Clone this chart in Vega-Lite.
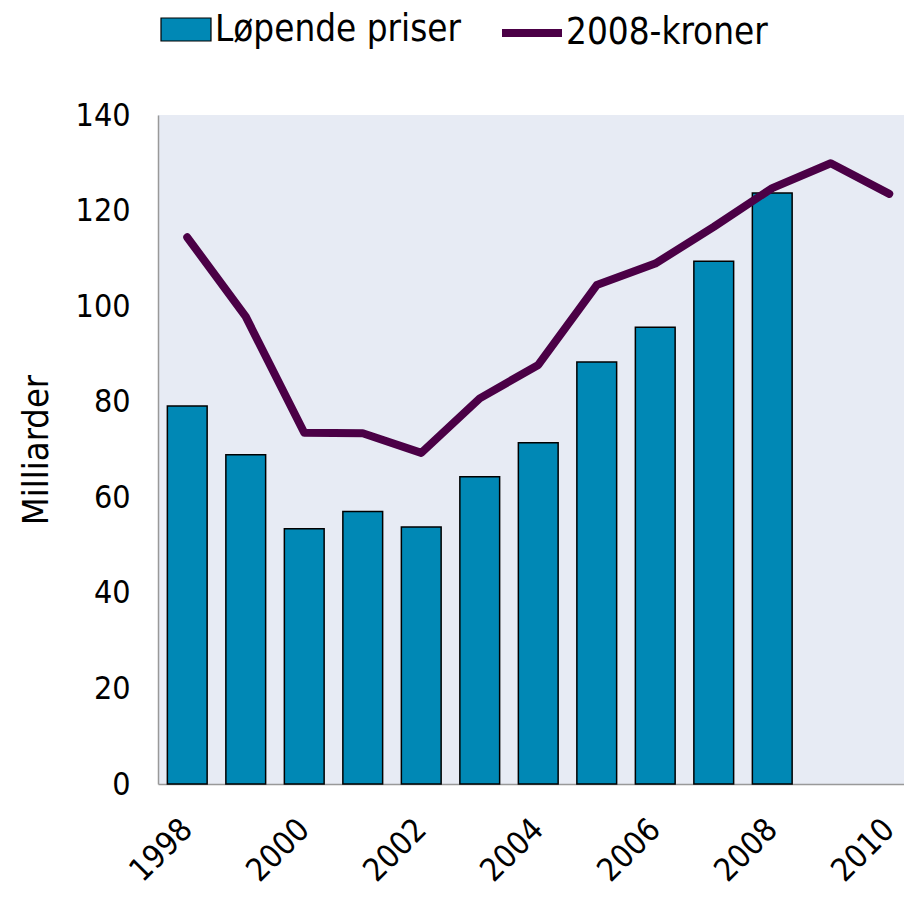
{
  "$schema": "https://vega.github.io/schema/vega-lite/v6.json",
  "width": 746,
  "height": 669,
  "autosize": {"type": "none"},
  "padding": {"left": 158, "top": 115, "right": 0, "bottom": 119},
  "background": "white",
  "config": {
    "view": {"fill": "#E7EBF4", "stroke": null},
    "font": "DejaVu Sans Condensed"
  },
  "data": {
    "values": [
      {"year": 1998, "lop": 79.1, "kr": 114.4},
      {"year": 1999, "lop": 68.9, "kr": 97.8},
      {"year": 2000, "lop": 53.4, "kr": 73.5},
      {"year": 2001, "lop": 57.0, "kr": 73.4},
      {"year": 2002, "lop": 53.8, "kr": 69.3},
      {"year": 2003, "lop": 64.3, "kr": 80.7},
      {"year": 2004, "lop": 71.4, "kr": 87.7},
      {"year": 2005, "lop": 88.3, "kr": 104.4},
      {"year": 2006, "lop": 95.6, "kr": 108.9},
      {"year": 2007, "lop": 109.4, "kr": 116.6},
      {"year": 2008, "lop": 123.7, "kr": 124.7},
      {"year": 2009, "lop": null, "kr": 129.9},
      {"year": 2010, "lop": null, "kr": 123.5}
    ]
  },
  "encoding": {
    "x": {
      "field": "year",
      "type": "ordinal",
      "scale": {"range": [0, 760.5], "paddingInner": 0.32, "paddingOuter": 0.16},
      "axis": {
        "title": null,
        "values": [1998, 2000, 2002, 2004, 2006, 2008, 2010],
        "ticks": false,
        "labelAngle": -45,
        "labelAlign": "right",
        "labelBaseline": "middle",
        "labelPadding": 40,
        "labelFontSize": 32,
        "labelColor": "black",
        "domainColor": "#999999",
        "domainWidth": 1.5
      }
    }
  },
  "layer": [
    {
      "mark": {"type": "bar", "stroke": "black", "strokeWidth": 1.5},
      "encoding": {
        "y": {
          "field": "lop",
          "type": "quantitative",
          "scale": {"domain": [0, 140], "nice": false},
          "axis": {
            "title": "Milliarder",
            "values": [0, 20, 40, 60, 80, 100, 120, 140],
            "ticks": false,
            "grid": false,
            "labelPadding": 28,
            "labelFontSize": 32,
            "labelColor": "black",
            "titleFontSize": 36,
            "titleFontWeight": "normal",
            "titleColor": "black",
            "titlePadding": 20,
            "domainColor": "#999999",
            "domainWidth": 1.5
          }
        },
        "fill": {
          "datum": "Løpende priser",
          "scale": {"range": ["#0088B5"]},
          "legend": {
            "title": null,
            "orient": "none",
            "legendX": 2,
            "legendY": -111.5,
            "symbolType": "M-1,-0.46H1V0.46H-1Z",
            "symbolSize": 2500,
            "symbolStrokeColor": "black",
            "symbolStrokeWidth": 1.2,
            "symbolOpacity": 1,
            "labelFontSize": 36.5,
            "labelColor": "black",
            "labelOffset": 3,
            "labelLimit": 0
          }
        }
      }
    },
    {
      "mark": {"type": "line", "strokeWidth": 8, "strokeCap": "round", "strokeJoin": "round"},
      "encoding": {
        "y": {"field": "kr", "type": "quantitative"},
        "stroke": {
          "datum": "2008-kroner",
          "scale": {"range": ["#4B0046"]},
          "legend": {
            "title": null,
            "orient": "none",
            "legendX": 340,
            "legendY": -116,
            "symbolType": "stroke",
            "symbolSize": 3600,
            "symbolStrokeWidth": 8,
            "labelFontSize": 36.5,
            "labelColor": "black",
            "labelOffset": 0,
            "labelLimit": 0
          }
        }
      }
    }
  ]
}
